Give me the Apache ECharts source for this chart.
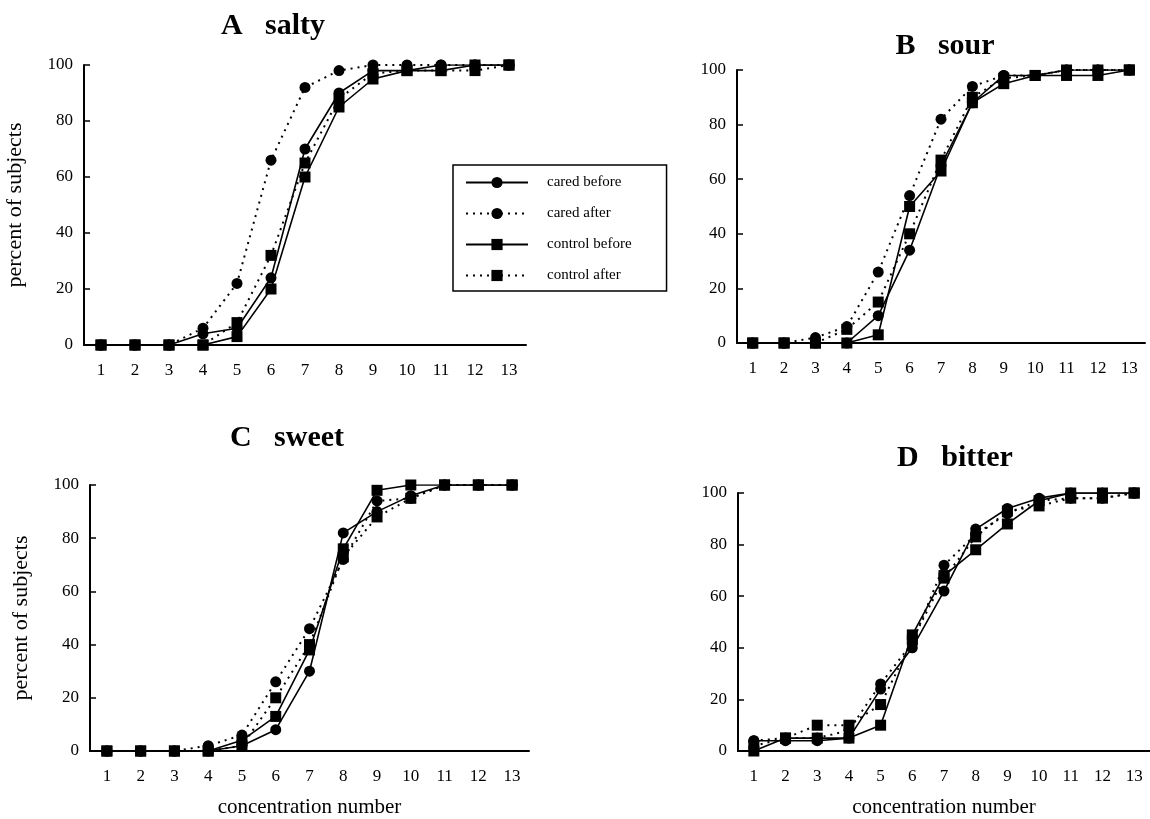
<!DOCTYPE html>
<html>
<head>
<meta charset="utf-8">
<script src="https://cdn.jsdelivr.net/npm/echarts@6/dist/echarts.min.js"></script>
<style>
  html, body { margin: 0; padding: 0; background: #fff; }
  #main { width: 1150px; height: 819px; }
</style>
</head>
<body>
<div id="main"></div>
<script>
var concentrations = ['1','2','3','4','5','6','7','8','9','10','11','12','13'];
var seriesNames = ['cared before', 'cared after', 'control before', 'control after'];
var panelTitles = ['A   salty', 'B   sour', 'C   sweet', 'D   bitter'];

// salty
var saltyCaredBefore   = [0, 0, 0, 4, 6, 24, 70, 90, 98, 98, 100, 100, 100];
var saltyCaredAfter    = [0, 0, 0, 6, 22, 66, 92, 98, 100, 100, 100, 100, 100];
var saltyControlBefore = [0, 0, 0, 0, 3, 20, 60, 85, 95, 98, 98, 100, 100];
var saltyControlAfter  = [0, 0, 0, 0, 8, 32, 65, 88, 97, 98, 98, 98, 100];
// sour
var sourCaredBefore   = [0, 0, 0, 0, 10, 34, 65, 88, 98, 98, 100, 100, 100];
var sourCaredAfter    = [0, 0, 2, 6, 26, 54, 82, 94, 98, 98, 100, 100, 100];
var sourControlBefore = [0, 0, 0, 0, 3, 50, 63, 88, 95, 98, 98, 98, 100];
var sourControlAfter  = [0, 0, 0, 5, 15, 40, 67, 90, 97, 98, 100, 100, 100];
// sweet
var sweetCaredBefore   = [0, 0, 0, 0, 2, 8, 30, 82, 90, 96, 100, 100, 100];
var sweetCaredAfter    = [0, 0, 0, 2, 6, 26, 46, 72, 94, 95, 100, 100, 100];
var sweetControlBefore = [0, 0, 0, 0, 4, 13, 38, 76, 98, 100, 100, 100, 100];
var sweetControlAfter  = [0, 0, 0, 0, 2, 20, 40, 73, 88, 95, 100, 100, 100];
// bitter
var bitterCaredBefore   = [4, 4, 4, 5, 24, 40, 62, 86, 94, 98, 100, 100, 100];
var bitterCaredAfter    = [4, 5, 5, 8, 26, 42, 72, 84, 92, 97, 98, 98, 100];
var bitterControlBefore = [0, 5, 5, 5, 10, 45, 68, 78, 88, 97, 100, 100, 100];
var bitterControlAfter  = [2, 5, 10, 10, 18, 43, 67, 83, 93, 95, 98, 98, 100];

var panels = [
  [saltyCaredBefore, saltyCaredAfter, saltyControlBefore, saltyControlAfter],
  [sourCaredBefore, sourCaredAfter, sourControlBefore, sourControlAfter],
  [sweetCaredBefore, sweetCaredAfter, sweetControlBefore, sweetControlAfter],
  [bitterCaredBefore, bitterCaredAfter, bitterControlBefore, bitterControlAfter]
];

var serif = '"Liberation Serif", "Times New Roman", serif';

var grids = [
  { left: 84, top: 65, width: 442, height: 280 },
  { left: 737, top: 70, width: 408, height: 273 },
  { left: 90, top: 485, width: 439, height: 269 },
  { left: 738, top: 493, width: 416, height: 260 }
];

var titlePos = [
  { left: 268, top: 6 },
  { left: 940, top: 26 },
  { left: 282, top: 418 },
  { left: 950, top: 438 }
];

var xAxes = [], yAxes = [], series = [], titles = [];
for (var p = 0; p < 4; p++) {
  titles.push({
    text: panelTitles[p],
    left: titlePos[p].left,
    top: titlePos[p].top,
    textAlign: 'center',
    textStyle: { fontFamily: serif, fontSize: 30, fontWeight: 'bold', color: '#000' }
  });
  xAxes.push({
    type: 'category',
    gridIndex: p,
    data: concentrations,
    boundaryGap: true,
    name: p >= 2 ? 'concentration number' : '',
    nameLocation: 'middle',
    nameGap: 46,
    nameTextStyle: { fontFamily: serif, fontSize: 21, color: '#000' },
    axisLine: { lineStyle: { color: '#000', width: 2 } },
    axisTick: { inside: true, length: 6, lineStyle: { color: '#000', width: 1.5 } },
    axisLabel: { fontFamily: serif, fontSize: 17, color: '#000', margin: 17 }
  });
  yAxes.push({
    type: 'value',
    gridIndex: p,
    min: 0,
    max: 100,
    interval: 20,
    name: (p % 2 === 0) ? 'percent of subjects' : '',
    nameLocation: 'middle',
    nameRotate: 90,
    nameGap: 58,
    nameTextStyle: { fontFamily: serif, fontSize: 22, color: '#000' },
    splitLine: { show: false },
    axisLine: { show: true, lineStyle: { color: '#000', width: 2 } },
    axisTick: { show: true, inside: true, length: 6, lineStyle: { color: '#000', width: 1.5 } },
    axisLabel: { fontFamily: serif, fontSize: 17, color: '#000', margin: 11 }
  });
  for (var s = 0; s < 4; s++) {
    var dotted = (s % 2 === 1);
    var circle = (s < 2);
    series.push({
      name: seriesNames[s],
      type: 'line',
      xAxisIndex: p,
      yAxisIndex: p,
      data: panels[p][s],
      symbol: circle ? 'circle' : 'rect',
      symbolSize: 11,
      showAllSymbol: true,
      itemStyle: { color: '#000' },
      lineStyle: { color: '#000', width: dotted ? 2 : 1.6, type: dotted ? [2, 5] : 'solid' },
      emphasis: { disabled: true },
      animation: false
    });
  }
}

var chart = echarts.init(document.getElementById('main'));
chart.setOption({
  backgroundColor: '#fff',
  animation: false,
  title: titles,
  legend: {
    data: seriesNames,
    orient: 'vertical',
    left: 453,
    top: 165,
    width: 200,
    padding: [10, 35, 8, 12],
    itemWidth: 62,
    itemHeight: 14,
    itemGap: 16,
    borderColor: '#000',
    borderWidth: 1.5,
    textStyle: { fontFamily: serif, fontSize: 15, color: '#000', padding: [0, 0, 0, 14] },
    selectedMode: false
  },
  grid: grids,
  xAxis: xAxes,
  yAxis: yAxes,
  series: series
});
</script>
</body>
</html>
